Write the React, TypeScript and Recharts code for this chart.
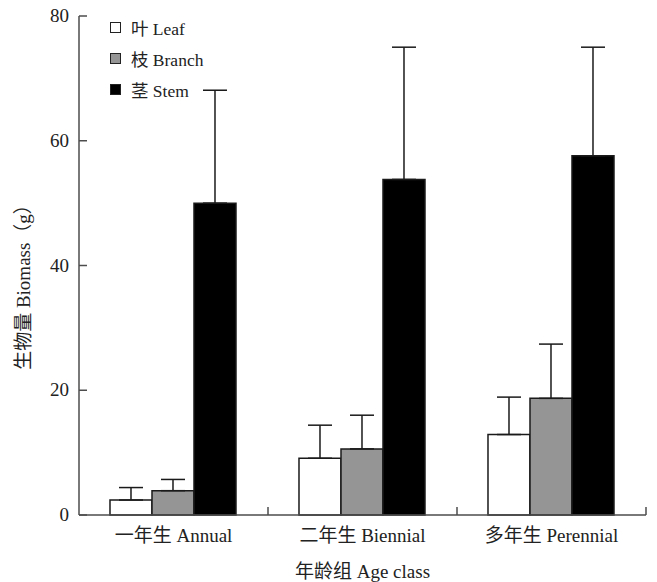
import React from 'react';
import { BarChart, Bar, XAxis, YAxis, ErrorBar, Legend, Label } from 'recharts';

// Age classes on the x axis
const categories = ['一年生 Annual', '二年生 Biennial', '多年生 Perennial'];

// Mean biomass (g) per organ
const leafMean = [2.4, 9.1, 12.9];
const branchMean = [3.9, 10.6, 18.7];
const stemMean = [50.0, 53.8, 57.6];

// Standard deviation (upper whisker only)
const leafSd = [2.0, 5.3, 6.0];
const branchSd = [1.8, 5.4, 8.7];
const stemSd = [18.1, 21.2, 17.4];

const yTicks = [0, 20, 40, 60, 80];

const series = [
  { key: 'leaf', label: '叶 Leaf', fill: '#ffffff' },
  { key: 'branch', label: '枝 Branch', fill: '#959595' },
  { key: 'stem', label: '茎 Stem', fill: '#000000' },
];

const data = categories.map((name, i) => ({
  name,
  leaf: leafMean[i],
  branch: branchMean[i],
  stem: stemMean[i],
  leafErr: [0, leafSd[i]],
  branchErr: [0, branchSd[i]],
  stemErr: [0, stemSd[i]],
}));

const FONT = '"Liberation Serif", "DejaVu Serif", "Noto Sans CJK SC", serif';
const AXIS = '#4d4d4d';

const YTick = (props: any) => {
  const { x, y, payload } = props;
  return (
    <g>
      <line x1={x} y1={y} x2={x + 8} y2={y} stroke={AXIS} strokeWidth={1.5} />
      <text x={x - 10} y={y} dy={6} textAnchor="end" fontSize={19} fill="#222" fontFamily={FONT}>
        {payload.value}
      </text>
    </g>
  );
};

// category label plus the inward tick on the right edge of each band
const XTick = (props: any) => {
  const { x, y, payload, width, visibleTicksCount } = props;
  const half = width / (2 * visibleTicksCount);
  return (
    <g>
      <line x1={x + half} y1={y} x2={x + half} y2={y - 8} stroke={AXIS} strokeWidth={1.5} />
      <text x={x} y={y} dy={27} textAnchor="middle" fontSize={19} fill="#222" fontFamily={FONT}>
        {payload.value}
      </text>
    </g>
  );
};

const LegendBox = () => (
  <div style={{ fontFamily: FONT, fontSize: 17.5, color: '#222' }}>
    {series.map((s) => (
      <div key={s.key} style={{ display: 'flex', alignItems: 'center', height: 31 }}>
        <div
          style={{
            width: 9,
            height: 9,
            background: s.fill,
            border: '1.2px solid #222',
            marginRight: 10,
          }}
        />
        <span>{s.label}</span>
      </div>
    ))}
  </div>
);

export default function App() {
  return (
    <div style={{ position: 'absolute', left: 0, top: 0, background: '#fff' }}>
      <BarChart
        width={657}
        height={582}
        data={data}
        margin={{ top: 16, right: 11, left: 0, bottom: 0 }}
        barCategoryGap="16.4%"
        barGap={0}
      >
        <XAxis
          dataKey="name"
          height={67}
          tickSize={0}
          tickMargin={0}
          tickLine={false}
          axisLine={{ stroke: AXIS, strokeWidth: 1.5 }}
          tick={<XTick />}
        >
          <Label
            content={(props: any) => {
              const vb = props.viewBox;
              return (
                <text
                  x={vb.x + vb.width / 2}
                  y={vb.y + 56}
                  textAnchor="middle"
                  dominantBaseline="central"
                  fontSize={19}
                  fill="#222"
                  fontFamily={FONT}
                >
                  年龄组 Age class
                </text>
              );
            }}
          />
        </XAxis>
        <YAxis
          width={79}
          domain={[0, 80]}
          ticks={yTicks}
          tickSize={0}
          tickMargin={0}
          tickLine={false}
          axisLine={{ stroke: AXIS, strokeWidth: 1.5 }}
          tick={<YTick />}
        >
          <Label
            content={(props: any) => {
              const vb = props.viewBox;
              const cx = vb.x + 23;
              const cy = vb.y + vb.height / 2 + 17;
              return (
                <text
                  x={cx}
                  y={cy}
                  transform={`rotate(-90, ${cx}, ${cy})`}
                  textAnchor="middle"
                  dominantBaseline="central"
                  fontSize={19}
                  fill="#222"
                  fontFamily={FONT}
                >
                  生物量 Biomass（g）
                </text>
              );
            }}
          />
        </YAxis>
        <Legend
          layout="vertical"
          align="center"
          verticalAlign="middle"
          content={<LegendBox />}
          wrapperStyle={{ top: 12, left: 110, width: 'auto' }}
        />
        {series.map((s) => (
          <Bar
            key={s.key}
            dataKey={s.key}
            fill={s.fill}
            stroke="#1a1a1a"
            strokeWidth={1.5}
            isAnimationActive={false}
          >
            <ErrorBar
              dataKey={`${s.key}Err`}
              direction="y"
              width={12}
              stroke="#1a1a1a"
              strokeWidth={1.5}
            />
          </Bar>
        ))}
      </BarChart>
    </div>
  );
}
